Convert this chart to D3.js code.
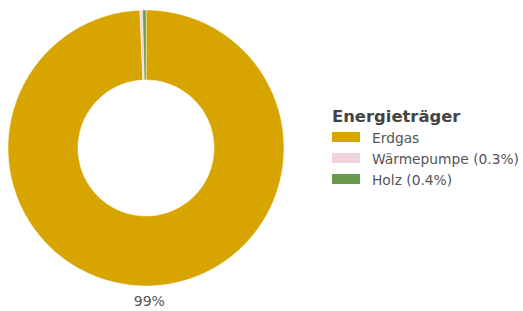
<!DOCTYPE html>
<html><head><meta charset="utf-8">
<script src="https://cdn.jsdelivr.net/npm/d3@7"></script>
<style>body{margin:0;background:#fff}svg{display:block;font-family:"DejaVu Sans",sans-serif}</style>
</head><body><svg id="c" width="523" height="311"></svg>
<script>
const categories = ["Erdgas", "Wärmepumpe", "Holz"];
const values = [99.3, 0.3, 0.4];
const legendLabels = ["Erdgas", "Wärmepumpe (0.3%)", "Holz (0.4%)"];
const colors = ["#d7a400", "#f0d3dc", "#6a9a4f"];
const sliceLabels = ["99%", "", ""];

const svg = d3.select("#c");
const cx = 146, cy = 148, R = 138, r0 = 68;
const pie = d3.pie().sort(null).value(d => d)(values);
const arc = d3.arc().innerRadius(r0).outerRadius(R);
const color = d3.scaleOrdinal().domain(categories).range(colors);
const g = svg.append("g").attr("transform", `translate(${cx},${cy})`);
g.selectAll("path").data(pie).join("path")
  .attr("d", arc).attr("fill", (d,i) => color(categories[i]))
  .attr("stroke", "#fff").attr("stroke-width", 0.5);
const lab = d3.arc().innerRadius(R + 15).outerRadius(R + 15);
g.selectAll("text").data(pie).join("text")
  .attr("transform", d => { const c = lab.centroid(d); return `translate(${c[0]},${c[1]})`; })
  .attr("text-anchor", "middle").attr("dy", "0.35em")
  .attr("font-size", 14).attr("fill", "#555")
  .text((d,i) => sliceLabels[i]);

const lg = svg.append("g").attr("transform", "translate(332,0)");
lg.append("text").attr("x", 0).attr("y", 122).attr("font-size", 16.4).attr("font-weight", "bold")
  .attr("fill", "#444").text("Energieträger");
const rows = lg.selectAll("g.row").data(categories).join("g").attr("class","row")
  .attr("transform", (d,i) => `translate(0,${132 + i*21})`);
rows.append("rect").attr("width", 28).attr("height", 10).attr("fill", d => color(d));
rows.append("text").attr("x", 40).attr("y", 10.5).attr("font-size", 13.8).attr("fill", "#555")
  .text((d,i) => legendLabels[i]);
</script></body></html>
